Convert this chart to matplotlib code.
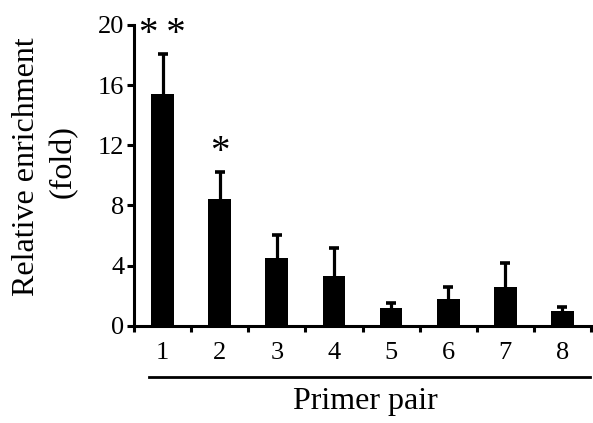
import numpy as np
import matplotlib
matplotlib.use("Agg")
import matplotlib.pyplot as plt
from matplotlib.lines import Line2D

plt.rcParams['font.family'] = ['Liberation Serif', 'DejaVu Serif']

# data
pairs = ["1", "2", "3", "4", "5", "6", "7", "8"]
enrichment = [15.4, 8.4, 4.5, 3.3, 1.2, 1.8, 2.55, 1.0]
sem = [2.7, 1.85, 1.5, 1.87, 0.33, 0.78, 1.62, 0.24]
marks = ["*\u2009*", "*", "", "", "", "", "", ""]

fig = plt.figure(figsize=(5.93, 4.23), dpi=100)
ax = fig.add_axes([0.226, 0.230, 0.7706, 0.711])

x = np.arange(len(pairs))
top = np.array(enrichment) + np.array(sem)
ax.bar(x, enrichment, width=0.4, color="black", zorder=2)
# upper error bars only
ax.vlines(x, enrichment, top, color="black", lw=2.3, zorder=1)
ax.plot(x, top, ls="none", marker="_", ms=7.5, mew=2.6, color="black", zorder=1)

for xi, yt, m in zip(x, top, marks):
    if m:
        ax.text(xi, yt + 0.05, m, ha="center", va="bottom", fontsize=28)

ax.set_xlim(-0.5, len(pairs) - 0.5)
ax.set_ylim(0, 20)
ax.set_yticks([0, 4, 8, 12, 16, 20])
ax.set_xticks(x)
ax.set_xticklabels(pairs)
ax.set_xticks(np.arange(-0.5, len(pairs)), minor=True)
ax.tick_params(axis="x", which="major", length=0, pad=12, labelsize=19)
ax.tick_params(axis="x", which="minor", length=4, width=2.2, direction="out")
ax.tick_params(axis="y", length=5, width=2.2, labelsize=19, pad=2)

for s in ["top", "right"]:
    ax.spines[s].set_visible(False)
for s in ["left", "bottom"]:
    ax.spines[s].set_linewidth(2.2)

# bracket line under the tick labels and the axis titles
fig.add_artist(Line2D([0.251, 0.995], [0.109, 0.109], color="black", lw=2))
fig.text(0.616, 0.050, "Primer pair", ha="center", va="center", fontsize=23)
fig.text(0.044, 0.606, "Relative enrichment", rotation=90, ha="center", va="center", fontsize=23)
fig.text(0.106, 0.617, "(fold)", rotation=90, ha="center", va="center", fontsize=23)

fig.savefig("out.png", dpi=100)
